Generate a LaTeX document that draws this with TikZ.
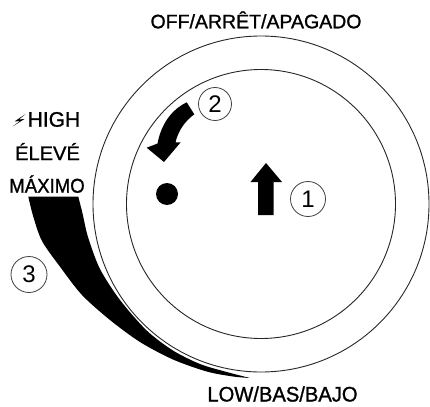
\documentclass[tikz,border=0pt]{standalone}
\usepackage{fontspec}
\usepackage{graphicx}
\setmainfont{Liberation Sans}
\newfontfamily\labfont{Liberation Sans}[FakeBold=1.2]
\begin{document}
\begin{tikzpicture}[x=1pt,y=-1pt,
  ring/.style={draw=black!85,line width=0.9pt},
  numcirc/.style={circle,draw=black!75,line width=0.8pt,inner sep=0pt,font=\fontsize{24}{24}\selectfont},
  lbl/.style={anchor=base,inner sep=0pt}]
\useasboundingbox (0,0) rectangle (430,406);
% rings
\coordinate (c) at (261,204);
\draw[ring] (c) circle[radius=168pt];
\draw[ring] (c) circle[radius=134.5pt];
% labels
\node[lbl] (off) at (256,28.3) {\labfont\fontsize{19.5}{19.5}\selectfont\scalebox{1.0}[1]{OFF/ARRÊT/APAGADO}};
\node[lbl] (low) at (282.5,401.5) {\labfont\fontsize{21}{21}\selectfont\scalebox{0.96}[1]{LOW/BAS/BAJO}};
\node[lbl,anchor=base west] (high) at (27.5,126.7) {\labfont\fontsize{21}{21}\selectfont HIGH};
\node[lbl] (eleve) at (47.5,160) {\labfont\fontsize{19.5}{19.5}\selectfont\scalebox{1.03}[1]{ÉLEVÉ}};
\node[lbl] (maximo) at (47,192.7) {\labfont\fontsize{20}{20}\selectfont\scalebox{0.93}[1]{MÁXIMO}};
% lightning bolt
\fill (25.5,114) -- (14.5,121.5) -- (20,121) -- (12.5,126.5) -- (24.5,119) -- (19,119.5) -- cycle;
% wedge (3)
\fill (28.3,196.7) -- plot[smooth] coordinates {(28.3,196.7) (33.3,216.7) (42,241) (60,266.7) (82,295) (110,320) (140,342) (173,359.5) (206.7,371.5) (233,376.5) (250,378)}
  -- plot[smooth] coordinates {(250,378) (226.7,372) (200,364) (173,350.5) (146.7,330.5) (120,300) (100,269) (88,237) (82.5,213.3) (78.3,196.7)} -- cycle;
% up arrow (1)
\fill (266,163) -- (250.5,182) -- (258,182) -- (258,215) -- (273.5,215) -- (273.5,182) -- (282,182) -- cycle;
% dot
\fill (167,194) circle[radius=11pt];
% curved arrow (2)
\fill (186.7,102.3) .. controls (175,108) and (162,120) .. (157.5,143.5) -- (146.7,147.7) -- (164,162) -- (180.7,142.3) -- (175.5,142.5) .. controls (178,131) and (185,121) .. (194.3,114.3) -- cycle;
% numbers
\node[numcirc,minimum size=35pt] (n1) at (308,199) {1};
\node[numcirc,minimum size=33pt] (n2) at (215,104) {2};
\node[numcirc,minimum size=36pt] (n3) at (29,274.5) {3};
\end{tikzpicture}
\end{document}
